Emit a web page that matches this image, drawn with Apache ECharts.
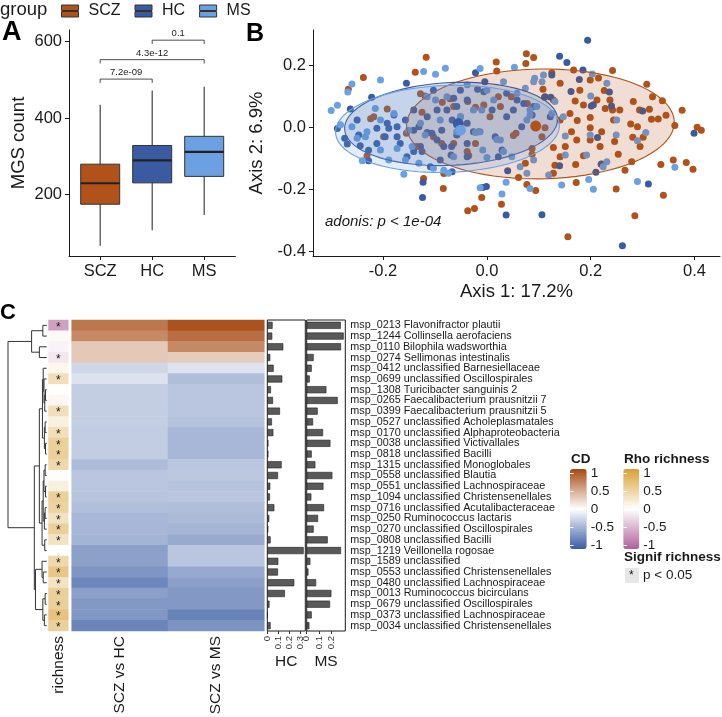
<!DOCTYPE html>
<html>
<head>
<meta charset="utf-8">
<script src="https://cdn.jsdelivr.net/npm/echarts@6.0.0/dist/echarts.min.js"></script>
<style>
  html, body { margin: 0; padding: 0; background: #fff; }
  #chart { width: 722px; height: 717px; }
</style>
</head>
<body>
<div id="chart"></div>
<script>
// ---- panel A: MGS count per group ----
const groups = ['SCZ', 'HC', 'MS'];
// [min, q1, median, q3, max]
const boxSCZ = [65, 174, 229, 279, 435];
const boxHC = [106, 230, 289, 328, 472];
const boxMS = [146, 247, 311, 352, 482];
const bracketFrom = [1, 1, 2];
const bracketTo = [2, 3, 3];
const bracketY = [502, 553, 604];
const bracketP = ['7.2e-09', '4.3e-12', '0.1'];

// ---- panel B: PCoA ----
const pcoaSCZ = [[-0.117,0.226],[-0.138,0.178],[-0.238,0.161],[-0.267,0.123],[0.018,0.211],[0.076,0.237],[0.090,0.225],[0.075,0.206],[0.019,0.182],[0.125,0.176],[0.242,0.183],[0.308,0.139],[0.319,0.099],[0.338,0.086],[0.376,0.055],[0.345,0.039],[0.362,0.006],[0.405,0.0],[0.413,-0.009],[0.384,-0.113],[0.397,-0.135],[0.359,-0.105],[0.335,-0.120],[0.340,-0.219],[0.285,-0.285],[0.249,-0.199],[0.156,-0.353],[0.172,-0.178],[0.171,-0.120],[0.131,-0.122],[0.094,-0.204],[0.077,-0.184],[0.061,-0.162],[0.028,-0.248],[-0.010,-0.226],[-0.037,-0.269],[-0.024,-0.262],[-0.084,-0.197],[-0.083,-0.149],[-0.122,-0.165],[-0.231,-0.092],[-0.224,0.028],[-0.086,0.081],[-0.119,0.101],[-0.128,0.108],[-0.071,0.092],[-0.037,0.083],[-0.006,0.072],[0.022,0.099],[0.047,0.099],[0.078,0.077],[0.108,0.123],[0.111,0.097],[0.199,0.153],[0.215,0.159],[0.226,0.119],[0.212,0.088],[0.186,0.072],[0.170,0.085],[0.199,0.032],[0.228,0.061],[0.242,0.056],[0.256,0.056],[0.282,0.083],[0.294,0.056],[0.313,0.058],[0.317,0.026],[0.330,0.027],[0.277,0.011],[0.290,0.002],[0.281,-0.032],[0.301,-0.032],[0.246,-0.046],[0.253,-0.087],[0.279,-0.111],[0.220,-0.119],[0.199,-0.041],[0.186,-0.092],[0.151,-0.062],[0.128,-0.065],[0.106,-0.030],[0.112,-0.001],[0.087,-0.068],[0.087,-0.087],[0.074,-0.116],[0.051,-0.026],[0.056,-0.019],[-0.022,-0.052],[-0.038,-0.078],[-0.035,-0.091],[-0.064,-0.052],[-0.087,-0.052],[-0.103,-0.030],[-0.135,-0.062],[-0.155,-0.019],[-0.199,-0.030],[-0.218,0.034],[-0.192,0.059],[-0.125,0.049],[-0.064,0.067],[-0.022,0.065],[0.006,0.034],[0.026,0.067],[0.141,0.024],[0.160,0.045],[0.174,0.022],[0.199,-0.001],[0.244,0.024],[0.221,-0.014],[0.173,-0.041],[0.141,-0.095],[0.128,-0.148],[0.266,-0.138],[0.295,-0.062],[0.167,0.185],[0.237,0.088],[0.179,0.120],[0.141,0.142],[0.128,0.088],[0.218,-0.062],[0.163,-0.014]];
const pcoaHC = [[0.194,0.281],[0.140,0.229],[0.154,0.209],[0.185,0.185],[0.178,0.154],[0.236,0.114],[0.162,0.116],[0.201,0.069],[0.205,0.073],[0.300,0.053],[0.399,-0.019],[0.213,-0.033],[0.221,-0.118],[0.210,-0.145],[0.140,-0.124],[0.311,-0.183],[0.261,-0.382],[0.106,-0.282],[0.037,-0.283],[-0.123,-0.177],[-0.124,-0.226],[-0.008,-0.194],[-0.001,-0.191],[0.040,-0.140],[-0.038,-0.095],[-0.069,-0.089],[-0.068,-0.062],[-0.155,0.142],[-0.222,0.097],[-0.263,0.059],[-0.288,-0.004],[-0.274,-0.035],[-0.269,-0.054],[-0.244,-0.059],[-0.228,-0.074],[-0.228,-0.108],[-0.196,-0.030],[-0.173,-0.030],[-0.157,0.024],[-0.141,0.056],[-0.131,0.002],[-0.115,-0.017],[-0.096,0.056],[-0.077,0.056],[-0.058,0.067],[-0.051,0.120],[-0.018,0.123],[-0.004,0.147],[-0.022,0.176],[-0.038,0.088],[-0.051,0.034],[-0.067,0.024],[-0.087,-0.009],[-0.106,-0.019],[-0.128,-0.062],[-0.141,-0.078],[-0.179,0.040],[-0.192,0.013],[0.038,0.110],[0.058,0.088],[0.071,0.077],[0.087,0.040],[0.038,0.034],[0.029,-0.073],[0.022,-0.095],[-0.038,-0.052],[-0.026,-0.014],[0.010,0.056],[-0.006,0.115],[0.123,0.097],[0.112,0.099],[0.122,0.034],[0.067,0.002],[-0.125,-0.078],[-0.154,-0.095],[-0.189,-0.003],[-0.212,-0.003],[-0.250,0.024],[-0.247,-0.025],[-0.212,-0.052],[-0.090,-0.105],[-0.067,-0.143],[-0.109,-0.127],[-0.115,0.034],[-0.103,0.120],[-0.096,-0.041],[-0.038,0.013],[-0.058,-0.025],[-0.016,-0.014],[0.016,-0.030],[0.051,0.056],[0.090,0.067],[-0.083,-0.062],[-0.167,-0.052],[-0.141,-0.009],[-0.173,0.002],[0.240,0.069],[0.125,0.169],[-0.064,0.094]];
const pcoaMS = [[-0.300,0.054],[-0.288,0.071],[-0.268,0.114],[-0.260,0.140],[-0.205,0.153],[-0.122,0.180],[-0.099,0.171],[-0.080,0.191],[-0.013,0.190],[0.053,0.194],[0.109,0.169],[0.092,0.158],[0.090,0.147],[0.203,0.172],[0.231,0.142],[0.200,0.101],[0.250,0.024],[0.199,-0.025],[0.249,-0.025],[0.306,-0.017],[0.290,-0.043],[0.362,-0.129],[0.290,-0.175],[0.205,-0.200],[0.196,-0.168],[0.144,-0.186],[0.151,-0.089],[0.151,-0.028],[0.119,-0.154],[0.083,-0.197],[0.037,-0.177],[0.029,-0.215],[-0.013,-0.195],[0.000,-0.097],[0.019,-0.039],[-0.008,-0.073],[-0.054,0.002],[-0.058,-0.014],[-0.022,-0.017],[-0.013,-0.014],[-0.160,-0.151],[-0.240,-0.108],[-0.260,0.002],[-0.234,-0.030],[-0.205,0.024],[-0.179,0.045],[-0.173,-0.068],[-0.157,-0.105],[-0.131,-0.116],[-0.103,-0.132],[-0.083,-0.138],[-0.074,-0.148],[-0.119,-0.025],[-0.090,0.024],[-0.099,0.088],[-0.115,0.099],[-0.051,0.034],[-0.026,0.056],[-0.010,0.056],[0.013,0.088],[0.032,0.147],[0.058,0.110],[0.074,0.126],[0.083,0.056],[0.083,0.040],[0.096,0.067],[0.125,0.045],[0.131,0.083],[0.147,0.034],[0.090,-0.105],[0.077,-0.148],[0.064,-0.127],[0.048,-0.095],[0.032,-0.078],[-0.064,-0.095],[-0.151,-0.009],[-0.215,0.061],[-0.205,-0.073],[-0.189,-0.105],[-0.250,-0.035],[-0.231,-0.014],[-0.282,0.008],[-0.144,-0.062],[-0.128,0.013],[-0.077,0.099],[-0.038,0.137],[0.000,0.120],[0.224,-0.127],[0.231,-0.111],[0.192,-0.089],[0.026,-0.041],[0.077,0.024],[0.106,0.147]];
// group centroids [x, y, group]
const centroids = [[0.094, 0.004, 0], [-0.055, 0.012, 1], [-0.051, -0.009, 2]];
// 95% ellipses [cx, cy, semi-axis x, semi-axis y, tilt, group]
const ellipses = [[0.103, 0.011, 0.258, 0.177, 0.04, 0], [-0.069, 0.011, 0.206, 0.133, 0.12, 1], [-0.076, -0.005, 0.216, 0.140, 0.08, 2]];

// ---- panel C: differential MGS ----
const taxa = ['msp_0213 Flavonifractor plautii', 'msp_1244 Collinsella aerofaciens', 'msp_0110 Bilophila wadsworthia', 'msp_0274 Sellimonas intestinalis', 'msp_0412 unclassified Barnesiellaceae', 'msp_0699 unclassified Oscillospirales', 'msp_1308 Turicibacter sanguinis 2', 'msp_0265 Faecalibacterium prausnitzii 7', 'msp_0399 Faecalibacterium prausnitzii 5', 'msp_0527 unclassified Acholeplasmatales', 'msp_0170 unclassified Alphaproteobacteria', 'msp_0038 unclassified Victivallales', 'msp_0818 unclassified Bacilli', 'msp_1315 unclassified Monoglobales', 'msp_0558 unclassified Blautia', 'msp_0551 unclassified Lachnospiraceae', 'msp_1094 unclassified Christensenellales', 'msp_0716 unclassified Acutalibacteraceae', 'msp_0250 Ruminococcus lactaris', 'msp_0270 unclassified Oscillospirales', 'msp_0808 unclassified Bacilli', 'msp_1219 Veillonella rogosae', 'msp_1589 unclassified', 'msp_0553 unclassified Christensenellales', 'msp_0480 unclassified Lachnospiraceae', 'msp_0013 Ruminococcus bicirculans', 'msp_0679 unclassified Oscillospirales', 'msp_0373 unclassified Lachnospiraceae', 'msp_0034 unclassified Christensenellales'];
const contrasts = ['SCZ vs HC', 'SCZ vs MS'];
const cdHC = [0.75, 0.65, 0.3, 0.3, -0.25, -0.18, -0.3, -0.3, -0.3, -0.3, -0.31, -0.31, -0.31, -0.41, -0.35, -0.35, -0.36, -0.39, -0.44, -0.44, -0.46, -0.58, -0.58, -0.65, -0.74, -0.59, -0.63, -0.64, -0.75];
const cdMS = [0.95, 0.8, 0.65, 0.28, -0.18, -0.4, -0.35, -0.35, -0.35, -0.37, -0.44, -0.44, -0.44, -0.35, -0.34, -0.37, -0.35, -0.4, -0.42, -0.46, -0.52, -0.35, -0.35, -0.53, -0.59, -0.63, -0.63, -0.76, -0.66];
const rhoRichness = [-0.6, 0.05, -0.08, -0.15, 0.08, 0.35, 0.01, 0.07, 0.35, 0.15, 0.35, 0.5, 0.5, 0.42, 0.02, 0.15, 0.5, 0.47, 0.3, 0.5, 0.3, 0.0, 0.42, 0.6, 0.3, 0.5, 0.5, 0.65, 0.5];
const sigRichness = [1, 0, 0, 1, 0, 1, 0, 0, 1, 0, 1, 1, 1, 1, 0, 0, 1, 1, 1, 1, 1, 0, 1, 1, 1, 1, 1, 1, 1];
const prevHC = [0.048, 0.045, 0.145, 0.027, 0.058, 0.136, 0.033, 0.052, 0.115, 0.042, 0.055, 0.01, 0.01, 0.13, 0.097, 0.027, 0.024, 0.064, 0.018, 0.009, 0.03, 0.33, 0.1, 0.097, 0.245, 0.16, 0.02, 0.003, 0.03];
const prevMS = [0.279, 0.303, 0.281, 0.057, 0.041, 0.025, 0.161, 0.254, 0.09, 0.052, 0.134, 0.194, 0.041, 0.071, 0.21, 0.137, 0.038, 0.142, 0.093, 0.057, 0.172, 0.281, 0.03, 0.014, 0.077, 0.202, 0.191, 0.041, 0.022];
// row clustering, hclust style: [left, right, height], negative = leaf (row number)
const merges = [
  [-1, -2, 0.10], [-3, -4, 0.19], [1, 2, 0.39],
  [-7, -8, 0.03], [4, -9, 0.05], [-6, 5, 0.07], [-5, 6, 0.09], [-10, -11, 0.04], [-12, -13, 0.03], [8, 9, 0.06], [7, 10, 0.11],
  [-14, -15, 0.04], [-16, -17, 0.03], [12, 13, 0.07], [-18, -19, 0.04], [15, -20, 0.06], [14, 16, 0.09], [-21, -22, 0.05], [17, 18, 0.12], [11, 19, 0.19],
  [-24, -25, 0.09], [-23, 21, 0.12], [-26, -27, 0.04], [-28, -29, 0.06], [23, 24, 0.10], [22, 25, 0.29], [20, 26, 0.32], [3, 27, 1.0]
];

const groupColors = ['#B0521A', '#3A5BA2', '#6BA1E2'];
const ink = '#1a1a1a';
const fontFamily = 'Liberation Sans, Arial, Helvetica, sans-serif';

// dendrogram segments: [yLeft, hLeft, yRight, hRight, h]
function dendroSegments(m) {
  const pos = [], hgt = [];
  const nodeY = id => id < 0 ? -id - 1 : pos[id - 1];
  const nodeH = id => id < 0 ? 0 : hgt[id - 1];
  return m.map(([l, r, h], i) => {
    const seg = [nodeY(l), nodeH(l), nodeY(r), nodeH(r), h];
    pos[i] = (seg[0] + seg[2]) / 2;
    hgt[i] = h;
    return seg;
  });
}

function boxItem(params, api) {
  const x = api.value(0);
  const lo = api.coord([x, api.value(1)]);
  const q1 = api.coord([x, api.value(2)]);
  const med = api.coord([x, api.value(3)]);
  const q3 = api.coord([x, api.value(4)]);
  const hi = api.coord([x, api.value(5)]);
  const w = api.size([0.75, 0])[0];
  const cx = lo[0];
  return {
    type: 'group',
    children: [
      { type: 'line', shape: { x1: cx, y1: hi[1], x2: cx, y2: lo[1] }, style: { stroke: '#444', lineWidth: 1.2 } },
      { type: 'rect', shape: { x: cx - w / 2, y: q3[1], width: w, height: q1[1] - q3[1] }, style: { fill: api.visual('color'), stroke: '#333', lineWidth: 1 } },
      { type: 'line', shape: { x1: cx - w / 2, y1: med[1], x2: cx + w / 2, y2: med[1] }, style: { stroke: '#222', lineWidth: 2.2 } }
    ]
  };
}

function bracketItem(params, api) {
  const p1 = api.coord([api.value(0), api.value(2)]);
  const p2 = api.coord([api.value(1), api.value(2)]);
  const drop = api.coord([api.value(0), api.value(2) - 10])[1] - p1[1];
  return {
    type: 'group',
    children: [
      { type: 'polyline', shape: { points: [[p1[0], p1[1] + drop], p1, p2, [p2[0], p2[1] + drop]] }, style: { stroke: '#222', lineWidth: 0.8, fill: null } },
      { type: 'text', x: (p1[0] + p2[0]) / 2, y: p1[1] - 1.5, style: { text: bracketP[params.dataIndex], fontSize: 9.5, fontFamily, fill: '#222', align: 'center', verticalAlign: 'bottom' } }
    ]
  };
}

function ellipseItem(params, api) {
  const cx = api.value(0), cy = api.value(1), a = api.value(2), b = api.value(3), ang = api.value(4);
  const c = groupColors[api.value(5)];
  const pts = [];
  for (let k = 0; k <= 90; k++) {
    const t = k / 90 * 2 * Math.PI;
    const dx = a * Math.cos(t), dy = b * Math.sin(t);
    pts.push(api.coord([cx + dx * Math.cos(ang) - dy * Math.sin(ang), cy + dx * Math.sin(ang) + dy * Math.cos(ang)]));
  }
  return { type: 'polygon', shape: { points: pts }, style: { fill: echarts.color.modifyAlpha(c, 0.19), stroke: c, lineWidth: 1.1 } };
}

function dendroItem(params, api) {
  const a = api.coord([api.value(1), api.value(0)]);
  const b = api.coord([api.value(4), api.value(0)]);
  const c = api.coord([api.value(4), api.value(2)]);
  const d = api.coord([api.value(3), api.value(2)]);
  return { type: 'polyline', shape: { points: [a, b, c, d] }, style: { stroke: '#333', lineWidth: 1, fill: null } };
}

const boxes = [boxSCZ, boxHC, boxMS];
const boxSeries = groups.map((g, i) => ({
  type: 'custom', name: g, xAxisIndex: 0, yAxisIndex: 0,
  itemStyle: { color: groupColors[i] },
  encode: { x: 0, y: [1, 2, 3, 4, 5] },
  data: [[i + 1].concat(boxes[i])],
  renderItem: boxItem
}));

const pointSets = [pcoaSCZ, pcoaHC, pcoaMS];
const pointSeries = groups.map((g, i) => ({
  type: 'scatter', name: g + ' samples', xAxisIndex: 1, yAxisIndex: 1,
  symbolSize: 7, itemStyle: { color: groupColors[i], opacity: 1 },
  data: pointSets[i], z: 2
}));

const richData = rhoRichness.map((v, i) => [0, i, v, sigRichness[i]]);
const cdData = cdHC.map((v, i) => [0, i, v]).concat(cdMS.map((v, i) => [1, i, v]));

const axisLine = { show: true, onZero: false, lineStyle: { color: ink, width: 1 } };
const tick = vals => ({ show: true, length: 4, customValues: vals, lineStyle: { color: ink } });

const chart = echarts.init(document.getElementById('chart'));
chart.setOption({
  animation: false,
  backgroundColor: '#fff',
  textStyle: { fontFamily },
  legend: {
    data: groups, left: 56, top: -2, itemWidth: 17, itemHeight: 12, itemGap: 14,
    icon: 'path://M0,0H17V5.5H0Z M0,6.5H17V12H0Z',
    itemStyle: { borderColor: '#333', borderWidth: 1 },
    textStyle: { fontSize: 16, color: ink, padding: [0, 0, 0, 5] },
    selectedMode: false
  },
  grid: [
    { left: 69, top: 30, width: 166.4, height: 226, outerBoundsMode: 'none' },
    { left: 313, top: 30, width: 407, height: 226, outerBoundsMode: 'none' },
    { left: 8, top: 320, width: 38.7, height: 311, outerBoundsMode: 'none' },
    { left: 48.5, top: 320, width: 19.8, height: 311, outerBoundsMode: 'none' },
    { left: 71.7, top: 320, width: 192.6, height: 311, outerBoundsMode: 'none' },
    { left: 267.3, top: 320, width: 38, height: 311, show: true, borderColor: ink, borderWidth: 1, backgroundColor: '#fff', outerBoundsMode: 'none' },
    { left: 306.7, top: 320, width: 38.6, height: 311, show: true, borderColor: ink, borderWidth: 1, backgroundColor: '#fff', outerBoundsMode: 'none' },
    { left: 570, top: 473, width: 16.7, height: 72, outerBoundsMode: 'none' },
    { left: 623.3, top: 473, width: 16, height: 72, outerBoundsMode: 'none' }
  ],
  xAxis: [
    { gridIndex: 0, type: 'value', min: 0.4, max: 3.6, axisLine, axisTick: tick([1, 2, 3]),
      axisLabel: { customValues: [1, 2, 3], formatter: v => groups[Math.round(v) - 1], fontSize: 16.5, color: ink, margin: 7 },
      splitLine: { show: false } },
    { gridIndex: 1, type: 'value', min: -0.335, max: 0.449, name: 'Axis 1: 17.2%', nameLocation: 'middle', nameGap: 26,
      nameTextStyle: { fontSize: 18.5, color: ink }, axisLine, axisTick: tick([-0.2, 0, 0.2, 0.4]),
      axisLabel: { customValues: [-0.2, 0, 0.2, 0.4], formatter: v => v.toFixed(1), fontSize: 16.5, color: ink, margin: 7 },
      splitLine: { show: false } },
    { gridIndex: 2, type: 'value', min: 0, max: 1, inverse: true, show: false },
    { gridIndex: 3, type: 'category', data: ['richness'], axisLine: { show: false }, axisTick: { show: false },
      axisLabel: { rotate: 90, fontSize: 15.5, color: ink, margin: 5, interval: 0 } },
    { gridIndex: 4, type: 'category', data: contrasts, axisLine: { show: false }, axisTick: { show: false },
      axisLabel: { rotate: 90, fontSize: 15.5, color: ink, margin: 5, interval: 0 } },
    { gridIndex: 5, type: 'value', min: 0, max: 0.345, name: 'HC', nameLocation: 'middle', nameGap: 23,
      nameTextStyle: { fontSize: 15.5, color: ink }, axisLine: { show: false },
      axisTick: { show: true, length: 3, customValues: [0, 0.1, 0.2, 0.3], lineStyle: { color: '#333' } },
      axisLabel: { customValues: [0, 0.1, 0.2, 0.3], rotate: 90, fontSize: 9.5, color: '#333', margin: 5 },
      splitLine: { show: false } },
    { gridIndex: 6, type: 'value', min: 0, max: 0.316, name: 'MS', nameLocation: 'middle', nameGap: 23,
      nameTextStyle: { fontSize: 15.5, color: ink }, axisLine: { show: false },
      axisTick: { show: true, length: 3, customValues: [0, 0.1, 0.2], lineStyle: { color: '#333' } },
      axisLabel: { customValues: [0, 0.1, 0.2], rotate: 90, fontSize: 9.5, color: '#333', margin: 5 },
      splitLine: { show: false } },
    { gridIndex: 7, type: 'value', show: false },
    { gridIndex: 8, type: 'value', show: false }
  ],
  yAxis: [
    { gridIndex: 0, type: 'value', min: 38.3, max: 630.7, name: 'MGS count', nameLocation: 'middle', nameGap: 41,
      nameTextStyle: { fontSize: 18.5, color: ink }, axisLine, axisTick: tick([200, 400, 600]),
      axisLabel: { customValues: [200, 400, 600], fontSize: 16.5, color: ink, margin: 7 }, splitLine: { show: false } },
    { gridIndex: 1, type: 'value', min: -0.415, max: 0.314, name: 'Axis 2: 6.9%', nameLocation: 'middle', nameGap: 42,
      nameTextStyle: { fontSize: 18.5, color: ink }, axisLine, axisTick: tick([-0.4, -0.2, 0, 0.2]),
      axisLabel: { customValues: [-0.4, -0.2, 0, 0.2], formatter: v => v.toFixed(1), fontSize: 16.5, color: ink, margin: 7 },
      splitLine: { show: false } },
    { gridIndex: 2, type: 'value', min: -0.5, max: 28.5, inverse: true, show: false },
    { gridIndex: 3, type: 'category', data: taxa, inverse: true, show: false },
    { gridIndex: 4, type: 'category', data: taxa, inverse: true, show: false },
    { gridIndex: 5, type: 'category', data: taxa, inverse: true, show: false },
    { gridIndex: 6, type: 'category', data: taxa, inverse: true, position: 'right', axisLine: { show: false }, axisTick: { show: false },
      axisLabel: { fontSize: 10.8, color: ink, margin: 5, interval: 0 } },
    { gridIndex: 7, type: 'value', min: -1, max: 1, interval: 0.5, position: 'right', z: 10, axisLine: { show: false },
      axisTick: { inside: true, length: 3.5, lineStyle: { color: '#fff' } }, axisLabel: { fontSize: 13.5, color: ink, margin: 4 }, splitLine: { show: false } },
    { gridIndex: 7, type: 'value', min: -1, max: 1, interval: 0.5, position: 'left', z: 10, axisLine: { show: false },
      axisTick: { inside: true, length: 3.5, lineStyle: { color: '#fff' } }, axisLabel: { show: false }, splitLine: { show: false } },
    { gridIndex: 8, type: 'value', min: -1, max: 1, interval: 0.5, position: 'right', z: 10, axisLine: { show: false },
      axisTick: { inside: true, length: 3.5, lineStyle: { color: '#fff' } }, axisLabel: { fontSize: 13.5, color: ink, margin: 4 }, splitLine: { show: false } },
    { gridIndex: 8, type: 'value', min: -1, max: 1, interval: 0.5, position: 'left', z: 10, axisLine: { show: false },
      axisTick: { inside: true, length: 3.5, lineStyle: { color: '#fff' } }, axisLabel: { show: false }, splitLine: { show: false } }
  ],
  visualMap: [
    { type: 'continuous', min: -1, max: 1, dimension: 2, seriesIndex: 11, calculable: false, padding: 0,
      left: 570, top: 469, itemWidth: 16.7, itemHeight: 80, text: null,
      inRange: { color: ['#3A5CA3', '#FFFFFF', '#A64A12'] } },
    { type: 'continuous', min: -1, max: 1, dimension: 2, seriesIndex: 10, calculable: false, padding: 0,
      left: 623.3, top: 469, itemWidth: 16, itemHeight: 80, text: null,
      inRange: { color: ['#B0609A', '#FFFFFF', '#D9A133'] } }
  ],
  series: [
    ...boxSeries,
    { type: 'custom', name: 'brackets', xAxisIndex: 0, yAxisIndex: 0, encode: { x: [0, 1], y: 2 },
      data: bracketFrom.map((f, i) => [f, bracketTo[i], bracketY[i]]), renderItem: bracketItem },
    ...pointSeries,
    { type: 'custom', name: 'ellipses', xAxisIndex: 1, yAxisIndex: 1, encode: { x: 0, y: 1 }, z: 3,
      data: ellipses, renderItem: ellipseItem },
    { type: 'scatter', name: 'centroids', xAxisIndex: 1, yAxisIndex: 1, symbolSize: 11, z: 4,
      itemStyle: { color: p => groupColors[p.data[2]], opacity: 1 }, data: centroids },
    { type: 'custom', name: 'dendrogram', xAxisIndex: 2, yAxisIndex: 2, encode: { x: [1, 3, 4], y: [0, 2] },
      data: dendroSegments(merges), renderItem: dendroItem },
    { type: 'heatmap', name: 'richness', xAxisIndex: 3, yAxisIndex: 3, data: richData,
      label: { show: true, formatter: p => p.data[3] ? '*' : '', fontSize: 12, color: ink, offset: [0, 2] },
      emphasis: { disabled: true } },
    { type: 'heatmap', name: 'CD', xAxisIndex: 4, yAxisIndex: 4, data: cdData, emphasis: { disabled: true } },
    { type: 'bar', name: 'HC prevalence', xAxisIndex: 5, yAxisIndex: 5, data: prevHC, barWidth: '66%',
      itemStyle: { color: '#595959', borderColor: '#222', borderWidth: 0.6 } },
    { type: 'bar', name: 'MS prevalence', xAxisIndex: 6, yAxisIndex: 6, data: prevMS, barWidth: '66%',
      itemStyle: { color: '#595959', borderColor: '#222', borderWidth: 0.6 } }
  ],
  graphic: [
    { type: 'text', left: 0, top: 0, style: { text: 'group', fontSize: 18.5, fontFamily, fill: ink } },
    { type: 'text', left: 2, top: 19, style: { text: 'A', fontSize: 27, fontWeight: 'bold', fontFamily, fill: '#000' } },
    { type: 'text', left: 246, top: 22, style: { text: 'B', fontSize: 25, fontWeight: 'bold', fontFamily, fill: '#000' } },
    { type: 'text', left: 0, top: 302, style: { text: 'C', fontSize: 22, fontWeight: 'bold', fontFamily, fill: '#000' } },
    { type: 'text', left: 325, top: 214, style: { text: 'adonis: p < 1e-04', fontSize: 15, fontStyle: 'italic', fontFamily, fill: ink } },
    { type: 'text', left: 571, top: 452, style: { text: 'CD', fontSize: 13.5, fontWeight: 'bold', fontFamily, fill: ink } },
    { type: 'text', left: 624, top: 452, style: { text: 'Rho richness', fontSize: 13.5, fontWeight: 'bold', fontFamily, fill: ink } },
    { type: 'text', left: 624, top: 550, style: { text: 'Signif richness', fontSize: 13.5, fontWeight: 'bold', fontFamily, fill: ink } },
    { type: 'rect', left: 625, top: 568, shape: { width: 14, height: 15 }, style: { fill: '#e6e6e6' } },
    { type: 'text', left: 629, top: 570, style: { text: '*', fontSize: 12, fontFamily, fill: ink } },
    { type: 'text', left: 643, top: 568, style: { text: 'p < 0.05', fontSize: 13.5, fontFamily, fill: ink } }
  ]
});
</script>
</body>
</html>
